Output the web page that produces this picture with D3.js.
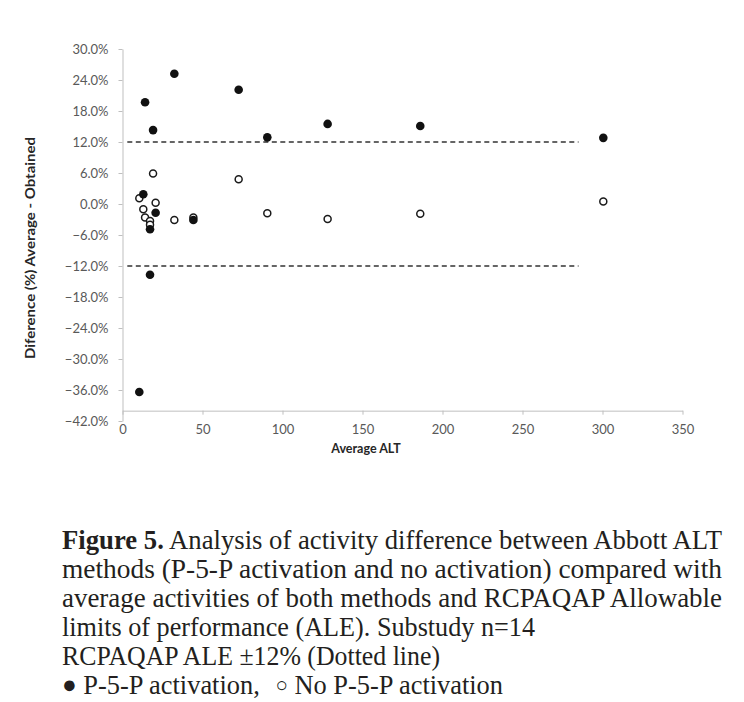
<!DOCTYPE html>
<html>
<head>
<meta charset="utf-8">
<script src="https://cdn.jsdelivr.net/npm/d3@7/dist/d3.min.js"></script>
<style>
  html, body { margin: 0; padding: 0; background: #fff; }
  svg { display: block; }
</style>
</head>
<body>
<div id="chart"></div>
<script>
// Average ALT of each sample (shared by both methods)
const avgAlt = [10.5, 13.0, 14.1, 17.2, 17.2, 19.1, 20.7, 32.4, 44.3, 72.6, 90.5, 128.2, 186.1, 300.5];
// Difference (%) average - obtained
const diffP5P   = [-36.4, 1.9, 19.7, -13.7, -4.9, 14.3, -1.7, 25.2, -3.1, 22.1, 12.9, 15.5, 15.1, 12.8];
const diffNoP5P = [1.1, -1.0, -2.6, -3.3, -4.0, 5.9, 0.25, -3.1, -2.6, 4.8, -1.8, -2.9, -1.9, 0.5];

// RCPAQAP ALE limits (dotted lines)
const aleLimits = [12, -12];
const aleXRange = [3, 285];

const xTicks = [0, 50, 100, 150, 200, 250, 300, 350];
const yTicks = [-42, -36, -30, -24, -18, -12, -6, 0, 6, 12, 18, 24, 30];

const captionLines = [
  { bold: "Figure 5.", text: " Analysis of activity difference between Abbott ALT", width: 660 },
  { text: "methods (P-5-P activation and no activation) compared with", width: 660 },
  { text: "average activities of both methods and RCPAQAP Allowable", width: 660 },
  { text: "limits of performance (ALE). Substudy n=14", width: 473 },
  { text: "RCPAQAP ALE \u00b112% (Dotted line)", width: 378 },
  { legend: true, width: 441 }
];

const W = 744, H = 702;
const svg = d3.select("#chart").append("svg")
  .attr("width", W)
  .attr("height", H)
  .attr("viewBox", [0, 0, W, H]);

svg.append("rect").attr("width", W).attr("height", H).attr("fill", "#fff");

const x = d3.scaleLinear().domain([0, 350]).range([122.5, 682.5]);
const y = d3.scaleLinear().domain([-42, 30]).range([421, 49]);

const axisColor = "#bfbfbf";
const labelColor = "#595959";
const uiFont = "Lato, 'Open Sans', sans-serif";

// ----- Y axis -----
const yAxis = svg.append("g")
  .attr("transform", `translate(${x(0)},0)`)
  .call(d3.axisLeft(y).tickValues(yTicks).tickSize(4).tickSizeOuter(0)
    .tickFormat(d => d3.format(".1f")(d) + "%"));

yAxis.select(".domain").attr("stroke", axisColor);
yAxis.selectAll(".tick line").attr("stroke", axisColor);
yAxis.selectAll(".tick text")
  .attr("x", -14)
  .attr("fill", labelColor)
  .attr("font-family", uiFont)
  .attr("font-size", 13);

// ----- X axis (crosses at -40%) -----
const xAxis = svg.append("g")
  .attr("transform", `translate(0,${y(-40)})`)
  .call(d3.axisBottom(x).tickValues(xTicks).tickSize(4).tickSizeOuter(0));

xAxis.select(".domain").attr("stroke", axisColor);
xAxis.selectAll(".tick line").attr("stroke", axisColor);
xAxis.selectAll(".tick text")
  .attr("y", 14)
  .attr("fill", labelColor)
  .attr("font-family", uiFont)
  .attr("font-size", 13);

// Axis titles
svg.append("text")
  .attr("transform", "rotate(-90)")
  .attr("x", -248)
  .attr("y", 35)
  .attr("text-anchor", "middle")
  .attr("font-family", uiFont)
  .attr("font-weight", "bold")
  .attr("font-size", 14)
  .attr("fill", "#262626")
  .attr("textLength", 222)
  .attr("lengthAdjust", "spacingAndGlyphs")
  .text("Diference (%) Average - Obtained");

svg.append("text")
  .attr("x", 366)
  .attr("y", 453)
  .attr("text-anchor", "middle")
  .attr("font-family", uiFont)
  .attr("font-weight", "bold")
  .attr("font-size", 12.5)
  .attr("fill", "#262626")
  .text("Average ALT");

// ----- ALE dashed lines -----
svg.selectAll(null)
  .data(aleLimits)
  .enter()
  .append("line")
  .attr("x1", x(aleXRange[0]))
  .attr("x2", x(aleXRange[1]))
  .attr("y1", d => y(d))
  .attr("y2", d => y(d))
  .attr("stroke", "#333")
  .attr("stroke-width", 1.5)
  .attr("stroke-dasharray", "5,3.5");

// ----- points -----
const pts = avgAlt.map((a, i) => ({ x: a, p5p: diffP5P[i], no: diffNoP5P[i] }));

svg.selectAll(null)
  .data(pts)
  .enter()
  .append("circle")
  .attr("cx", d => x(d.x))
  .attr("cy", d => y(d.no))
  .attr("r", 3.5)
  .attr("fill", "#fff")
  .attr("stroke", "#1a1a1a")
  .attr("stroke-width", 1.5);

svg.selectAll(null)
  .data(pts)
  .enter()
  .append("circle")
  .attr("cx", d => x(d.x))
  .attr("cy", d => y(d.p5p))
  .attr("r", 4.3)
  .attr("fill", "#111");

// ----- caption -----
const capFont = "'Liberation Serif', 'Times New Roman', serif";
const capSize = 27;
const capLeft = 62;
const capTop = 549, capStep = 29;

captionLines.forEach((ln, i) => {
  const yy = capTop + i * capStep;
  const t = svg.append("text")
    .attr("x", capLeft)
    .attr("y", yy)
    .attr("font-family", capFont)
    .attr("font-size", capSize)
    .attr("fill", "#231f20")
    .attr("textLength", ln.width)
    .attr("lengthAdjust", "spacingAndGlyphs");

  if (ln.legend) {
    t.append("tspan").attr("font-size", 25).attr("dy", -1).text("\u25cf");
    t.append("tspan").attr("dy", 1).text(" P-5-P activation,");
    t.append("tspan").attr("dx", 16).attr("font-size", 21).attr("dy", -2).text("\u25cb");
    t.append("tspan").attr("dy", 2).text(" No P-5-P activation");
    return;
  }
  if (ln.bold) t.append("tspan").attr("font-weight", "bold").text(ln.bold);
  t.append("tspan").text(ln.text);
});
</script>
</body>
</html>
